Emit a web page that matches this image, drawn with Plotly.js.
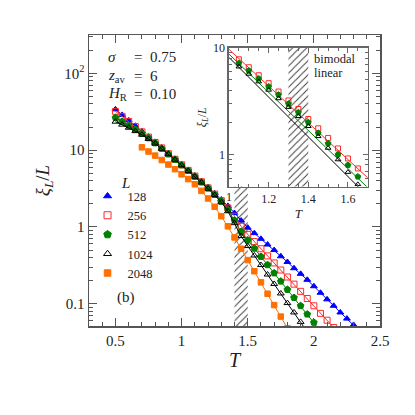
<!DOCTYPE html>
<html>
<head>
<meta charset="utf-8">
<script src="https://cdn.plot.ly/plotly-3.0.1.min.js"></script>
<style>
  body { margin: 0; background: white; }
  #plot { width: 415px; height: 415px; }
</style>
</head>
<body>
<div id="plot"></div>
<script>
// main panel: xi_L / L against T, one list per system size L
const sizes = ["128", "256", "512", "1024", "2048"];

const t128 = [0.5, 0.55, 0.6, 0.65, 0.7, 0.75, 0.8, 0.85, 0.9, 0.95, 1.0, 1.05, 1.1, 1.15, 1.2, 1.25, 1.3, 1.35, 1.4, 1.45, 1.5, 1.55, 1.6, 1.65, 1.7, 1.75, 1.8, 1.85, 1.9, 1.95, 2.0, 2.05, 2.1, 2.15, 2.2, 2.25, 2.3, 2.35];
const xi128 = [34, 28.8, 24.4, 20.8, 17.6, 15.0, 12.8, 10.8, 9.1, 7.7, 6.5, 5.5, 4.65, 3.92, 3.28, 2.74, 2.28, 1.88, 1.52, 1.21, 0.98, 0.83, 0.70, 0.59, 0.50, 0.415, 0.35, 0.29, 0.245, 0.205, 0.169, 0.139, 0.114, 0.094, 0.077, 0.064, 0.053, 0.043];

const t256 = [0.5, 0.55, 0.6, 0.65, 0.7, 0.75, 0.8, 0.85, 0.9, 0.95, 1.0, 1.05, 1.1, 1.15, 1.2, 1.25, 1.3, 1.35, 1.4, 1.45, 1.5, 1.55, 1.6, 1.65, 1.7, 1.75, 1.8, 1.85, 1.9, 1.95, 2.0, 2.05, 2.1, 2.15];
const xi256 = [32, 27.6, 23.7, 20.3, 17.3, 14.8, 12.6, 10.7, 9.0, 7.6, 6.45, 5.45, 4.6, 3.88, 3.23, 2.68, 2.2, 1.77, 1.38, 1.02, 0.80, 0.645, 0.52, 0.42, 0.34, 0.275, 0.223, 0.18, 0.145, 0.117, 0.094, 0.075, 0.061, 0.049];

const t512 = [0.5, 0.55, 0.6, 0.65, 0.7, 0.75, 0.8, 0.85, 0.9, 0.95, 1.0, 1.05, 1.1, 1.15, 1.2, 1.25, 1.3, 1.35, 1.4, 1.45, 1.5, 1.55, 1.6, 1.65, 1.7, 1.75, 1.8, 1.85, 1.9, 1.95, 2.0, 2.05];
const xi512 = [26.5, 23.6, 21.0, 18.6, 16.5, 14.4, 12.4, 10.5, 8.9, 7.55, 6.4, 5.4, 4.55, 3.84, 3.2, 2.64, 2.15, 1.68, 1.22, 0.87, 0.673, 0.526, 0.411, 0.321, 0.251, 0.196, 0.153, 0.120, 0.094, 0.073, 0.057, 0.044];

const t1024 = [0.5, 0.55, 0.6, 0.65, 0.7, 0.75, 0.8, 0.85, 0.9, 0.95, 1.0, 1.05, 1.1, 1.15, 1.2, 1.25, 1.3, 1.35, 1.4, 1.45, 1.5, 1.55, 1.6, 1.65, 1.7, 1.75, 1.8, 1.85, 1.9, 1.95];
const xi1024 = [23.5, 21.5, 19.6, 17.7, 15.9, 14.0, 12.2, 10.4, 8.85, 7.5, 6.35, 5.35, 4.5, 3.8, 3.15, 2.6, 2.1, 1.6, 1.12, 0.76, 0.564, 0.425, 0.319, 0.24, 0.181, 0.136, 0.102, 0.077, 0.058, 0.043];

const t2048 = [0.7, 0.75, 0.8, 0.85, 0.9, 0.95, 1.0, 1.05, 1.1, 1.15, 1.2, 1.25, 1.3, 1.35, 1.4, 1.45, 1.5, 1.55, 1.6, 1.65, 1.7, 1.75, 1.8];
const xi2048 = [10.9, 9.6, 8.5, 7.45, 6.5, 5.65, 4.85, 4.2, 3.6, 2.95, 2.35, 1.83, 1.38, 1.02, 0.73, 0.52, 0.37, 0.265, 0.19, 0.135, 0.096, 0.068, 0.048];

// inset: bimodal linear, L = 256, 512, 1024
const tInset = [1.05, 1.1, 1.15, 1.2, 1.25, 1.3, 1.35, 1.4, 1.45, 1.5, 1.55, 1.6, 1.65];
const inset256 = [7.80, 6.57, 5.53, 4.66, 3.89, 3.21, 2.67, 2.15, 1.76, 1.43, 1.14, 0.918, 0.740];
const inset512 = [7.17, 6.11, 5.14, 4.33, 3.63, 2.99, 2.48, 2.0, 1.59, 1.27, 1.0, 0.795, 0.62];
const inset1024 = [6.65, 5.69, 4.82, 4.03, 3.35, 2.78, 2.28, 1.84, 1.48, 1.15, 0.897, 0.684, 0.525];

// straight fits drawn in the inset (end values)
const fitT = [1.0, 1.7];
const fit256 = [9.66, 0.604];
const fit512 = [8.73, 0.488];
const fit1024 = [8.13, 0.405];

// hatched T bands (main one stops under the inset)
const bandMain = [1.4, 1.5];
const bandMainY = [1e-3, 4];
const bandInset = [1.3, 1.4];
const bandInsetY = [0.1, 100];

// tick labels (the "1" of the inset is put in as a note, plotly drops it)
const mainYTicks = [0.1, 1, 10, 100];
const mainYText = ["0.1", "1", "10", "10<sup>2</sup>"];
const insetXTicks = [1, 1.2, 1.4, 1.6];
const insetXText = ["", "1.2", "1.4", "1.6"];
const insetYTicks = [1, 10];
const insetYText = ["1", "10"];

const serif = "Liberation Serif, Times New Roman, serif";
const colors = ["#0000ff", "#ff2a2a", "#008000", "#000000", "#ff7000"];
const symbols = ["triangle-up", "square-open", "pentagon", "triangle-up-open", "square"];
const msize = [6, 6, 7, 6, 5.5];

function band(tb, yb, xa, ya) {
  return {
    x: [tb[0], tb[1], tb[1], tb[0], tb[0]],
    y: [yb[0], yb[0], yb[1], yb[1], yb[0]],
    xaxis: xa, yaxis: ya,
    mode: "lines", fill: "toself",
    line: { width: 0, color: "rgba(0,0,0,0)" },
    fillcolor: "rgba(0,0,0,0)",
    fillpattern: { shape: "/", fgcolor: "#333", bgcolor: "rgba(0,0,0,0)", size: 5, solidity: 0.18, fillmode: "replace" },
    hoverinfo: "skip", showlegend: false
  };
}

const mainT = [t128, t256, t512, t1024, t2048];
const mainXi = [xi128, xi256, xi512, xi1024, xi2048];

const data = [band(bandMain, bandMainY, "x", "y")];

mainT.forEach(function (t, i) {
  data.push({
    x: t, y: mainXi[i], xaxis: "x", yaxis: "y",
    mode: "lines+markers", type: "scatter",
    line: { color: colors[i], width: 1 },
    marker: { symbol: symbols[i], color: colors[i], size: msize[i], line: { color: colors[i], width: 1 } },
    showlegend: false
  });
});

// legend entries (markers only, like the reference)
sizes.forEach(function (s, i) {
  data.push({
    x: [null], y: [null], xaxis: "x", yaxis: "y",
    mode: "markers", type: "scatter", name: s,
    marker: { symbol: symbols[i], color: colors[i], size: msize[i] + 1, line: { color: colors[i], width: 1 } }
  });
});

data.push(band(bandInset, bandInsetY, "x2", "y2"));

const insetY = [inset256, inset512, inset1024];
const insetFit = [fit256, fit512, fit1024];
[1, 2, 3].forEach(function (c, k) {
  data.push({
    x: fitT, y: insetFit[k], xaxis: "x2", yaxis: "y2",
    mode: "lines", line: { color: colors[c], width: 1 },
    hoverinfo: "skip", showlegend: false
  });
  data.push({
    x: tInset, y: insetY[k], xaxis: "x2", yaxis: "y2",
    mode: "markers",
    marker: { symbol: symbols[c], color: colors[c], size: msize[c] - 1, line: { color: colors[c], width: 1 } },
    showlegend: false
  });
});

const axisCommon = {
  showline: true, linecolor: "#555", linewidth: 1.5, mirror: "ticks",
  ticks: "inside", tickcolor: "#555", tickwidth: 1,
  showgrid: false, zeroline: false
};

const layout = {
  width: 415, height: 415,
  margin: { l: 89, r: 35, t: 35, b: 89 },
  paper_bgcolor: "white", plot_bgcolor: "white",
  font: { family: serif, size: 15, color: "#222" },
  showlegend: true,
  legend: {
    x: -0.005, y: 0.497, xanchor: "left", yanchor: "top",
    bgcolor: "rgba(0,0,0,0)", font: { size: 12.5 }
  },
  xaxis: Object.assign({}, axisCommon, {
    domain: [0, 1], anchor: "y", range: [0.3, 2.5],
    tickmode: "linear", tick0: 0.5, dtick: 0.5, ticklen: 8,
    minor: { ticks: "inside", ticklen: 4, tick0: 0, dtick: 0.1, tickcolor: "#555", showgrid: false },
    tickfont: { size: 15 },
    title: { text: "<i>T</i>", font: { size: 20 }, standoff: 5 }
  }),
  yaxis: Object.assign({}, axisCommon, {
    domain: [0, 1], anchor: "x", type: "log", range: [-1.29, 2.5],
    tickmode: "array", tickvals: mainYTicks, ticktext: mainYText,
    ticklen: 8,
    minor: {
      ticks: "inside", ticklen: 4, tickcolor: "#555", showgrid: false, tickmode: "array",
      tickvals: [0.06, 0.07, 0.08, 0.09, 0.2, 0.3, 0.4, 0.5, 0.6, 0.7, 0.8, 0.9, 2, 3, 4, 5, 6, 7, 8, 9, 20, 30, 40, 50, 60, 70, 80, 90, 200, 300]
    },
    tickfont: { size: 15 },
    title: { text: "<i>ξ</i><sub><i>L</i></sub>/<i>L</i>", font: { size: 19 }, standoff: 9 }
  }),
  xaxis2: Object.assign({}, axisCommon, {
    domain: [0.481, 0.958], anchor: "y2", range: [1.0, 1.7],
    linecolor: "#666", tickcolor: "#666",
    tickmode: "array", tickvals: insetXTicks, ticktext: insetXText, ticklen: 5,
    minor: { ticks: "inside", ticklen: 3, tick0: 1, dtick: 0.05, tickcolor: "#666", showgrid: false },
    tickfont: { size: 12 },
    title: { text: "<i>T</i>", font: { size: 13 }, standoff: 2 }
  }),
  yaxis2: Object.assign({}, axisCommon, {
    domain: [0.479, 0.956], anchor: "x2", type: "log", range: [Math.log10(0.5), 1],
    linecolor: "#666", tickcolor: "#666",
    tickmode: "array", tickvals: insetYTicks, ticktext: insetYText, ticklen: 5,
    minor: {
      ticks: "inside", ticklen: 3, tickcolor: "#666", showgrid: false, tickmode: "array",
      tickvals: [0.6, 0.7, 0.8, 0.9, 2, 3, 4, 5, 6, 7, 8, 9]
    },
    tickfont: { size: 12 },
    title: { text: "<i>ξ</i><sub><i>L</i></sub>/<i>L</i>", font: { size: 12 }, standoff: 4 }
  }),
  annotations: [
    { text: "<i>σ</i>", x: 0.058, y: 0.924 },
    { text: "=&nbsp; 0.75", x: 0.148, y: 0.924 },
    { text: "<i>z</i><sub>av</sub>", x: 0.058, y: 0.859 },
    { text: "=&nbsp; 6", x: 0.148, y: 0.859 },
    { text: "<i>H</i><sub>R</sub>", x: 0.058, y: 0.797 },
    { text: "=&nbsp; 0.10", x: 0.148, y: 0.797 },
    { text: "<i>L</i>", x: 0.124, y: 0.491, xanchor: "center", font: { size: 15 } },
    { text: "(b)", x: 0.09, y: 0.097 },
    { text: "bimodal", x: 0.768, y: 0.918, font: { size: 12.5 } },
    { text: "linear", x: 0.768, y: 0.870, font: { size: 12.5 } },
    { text: "1", x: 0.481, y: 0.443, xanchor: "center", font: { size: 12, color: "#222" } }
  ].map(function (a) {
    return Object.assign({ xref: "paper", yref: "paper", xanchor: "left", yanchor: "middle", showarrow: false, font: { size: 15 } }, a);
  })
};

Plotly.newPlot("plot", data, layout, { staticPlot: true });
</script>
</body>
</html>
